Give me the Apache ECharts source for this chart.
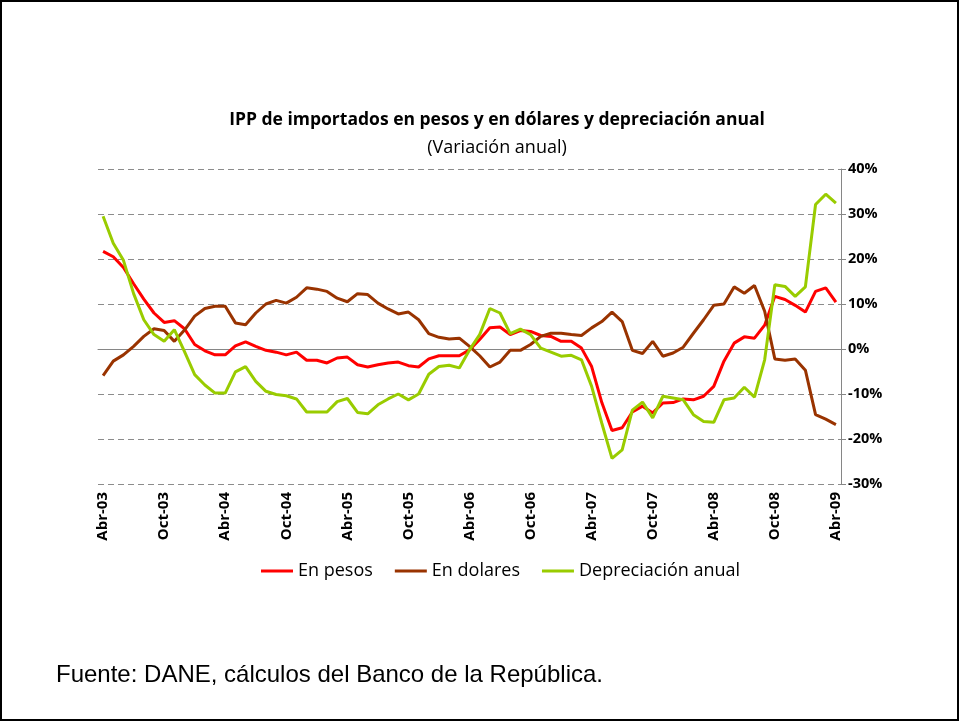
<!DOCTYPE html>
<html>
<head>
<meta charset="utf-8">
<script src="https://cdn.jsdelivr.net/npm/echarts@6/dist/echarts.min.js"></script>
<style>
  html, body { margin: 0; padding: 0; background: #fff; }
  #ipp { width: 960px; height: 722px; }
</style>
</head>
<body>
<div id="ipp"></div>
<script>
// IPP de importados: variación anual, abr-03 a abr-09 (mensual)
var meses = ['Abr','May','Jun','Jul','Ago','Sep','Oct','Nov','Dic','Ene','Feb','Mar'];
var categorias = [];
for (var k = 0; k < 73; k++) {
    var m = k % 12;
    var anio = 3 + Math.floor((k + 3) / 12);
    categorias.push(meses[m] + '-' + (anio < 10 ? '0' + anio : anio));
}

var enPesos = [21.7, 20.5, 18.1, 14.5, 11.1, 8.0, 5.9, 6.3, 4.5, 1.0, -0.4, -1.3,
    -1.3, 0.7, 1.6, 0.6, -0.3, -0.7, -1.3, -0.7, -2.5, -2.5, -3.1, -2.0,
    -1.8, -3.5, -4.0, -3.5, -3.1, -2.9, -3.7, -4.0, -2.2, -1.5, -1.5, -1.5,
    -0.2, 2.1, 4.7, 4.9, 3.2, 4.1, 3.9, 3.0, 2.8, 1.7, 1.7, 0.2,
    -3.9, -11.9, -18.1, -17.5, -14.0, -12.7, -14.2, -12.0, -11.9, -11.1, -11.3, -10.5,
    -8.3, -2.7, 1.3, 2.7, 2.4, 5.3, 11.7, 11.0, 9.7, 8.2, 12.8, 13.6,
    10.4];

var enDolares = [-5.9, -2.7, -1.3, 0.6, 2.8, 4.5, 4.1, 1.7, 4.2, 7.3, 9.0, 9.5,
    9.5, 5.8, 5.4, 8.0, 10.0, 10.8, 10.2, 11.5, 13.6, 13.3, 12.8, 11.3,
    10.5, 12.3, 12.1, 10.2, 8.9, 7.8, 8.2, 6.5, 3.4, 2.6, 2.2, 2.4,
    0.6, -1.5, -4.0, -2.9, -0.3, -0.3, 1.0, 2.8, 3.5, 3.5, 3.2, 3.0,
    4.7, 6.1, 8.2, 6.1, -0.3, -1.0, 1.7, -1.6, -0.9, 0.4, 3.5, 6.5,
    9.7, 10.0, 13.8, 12.4, 14.1, 8.4, -2.2, -2.5, -2.2, -4.7, -14.6, -15.6,
    -16.8];

var depreciacion = [29.5, 23.5, 19.7, 12.3, 6.5, 3.2, 1.7, 4.3, -0.6, -5.7, -8.0, -9.8,
    -9.8, -5.1, -3.9, -7.2, -9.4, -10.1, -10.4, -11.1, -14.0, -14.0, -14.0, -11.7,
    -11.0, -14.1, -14.4, -12.4, -11.1, -10.0, -11.3, -10.0, -5.6, -3.9, -3.6, -4.2,
    -0.2, 3.2, 9.0, 8.0, 3.4, 4.4, 3.2, 0.2, -0.7, -1.6, -1.4, -2.4,
    -8.3, -16.5, -24.3, -22.4, -13.6, -11.8, -15.3, -10.5, -10.9, -11.3, -14.6, -16.1,
    -16.3, -11.3, -10.9, -8.5, -10.7, -2.4, 14.3, 13.9, 11.7, 13.8, 32.1, 34.4,
    32.4];

var fuente = "'Open Sans', 'Noto Sans', sans-serif";

var ipp = echarts.init(document.getElementById('ipp'));

var ipp_option = {
    backgroundColor: '#fff',
    animation: false,
    title: [{
        text: 'IPP de importados en pesos y en dólares y depreciación anual',
        left: 492,
        textAlign: 'center',
        top: 106,
        textStyle: { fontFamily: fuente, fontSize: 17.5, fontWeight: 'bold', color: '#000' }
    }, {
        text: '(Variación anual)',
        left: 492,
        textAlign: 'center',
        top: 134,
        textStyle: { fontFamily: fuente, fontSize: 18, fontWeight: 'normal', color: '#000' }
    }],
    legend: {
        top: 557,
        left: 256,
        icon: 'rect',
        itemWidth: 32,
        itemHeight: 3,
        itemGap: 22,
        textStyle: { fontFamily: fuente, fontSize: 18, color: '#000' },
        data: ['En pesos', 'En dolares', 'Depreciación anual']
    },
    grid: {
        left: 98,
        top: 169,
        width: 743,
        height: 315
    },
    xAxis: [{
        type: 'category',
        data: categorias,
        boundaryGap: true,
        axisLine: { onZero: true, lineStyle: { color: '#868686', width: 1 } },
        axisTick: { interval: 5, length: 5, lineStyle: { color: '#868686' } },
        axisLabel: { show: false },
        splitLine: { show: false }
    }, {
        type: 'category',
        data: categorias,
        position: 'bottom',
        boundaryGap: true,
        axisLine: { show: false, onZero: false },
        axisTick: { show: false },
        axisLabel: {
            interval: 5,
            rotate: 90,
            margin: 8,
            fontFamily: fuente,
            fontSize: 15,
            fontWeight: 'bold',
            color: '#000'
        },
        splitLine: { show: false }
    }],
    yAxis: {
        type: 'value',
        position: 'right',
        min: -30,
        max: 40,
        interval: 10,
        axisLine: { show: true, lineStyle: { color: '#868686' } },
        axisTick: { show: true, length: 5, lineStyle: { color: '#868686' } },
        axisLabel: {
            formatter: '{value}%',
            margin: 7,
            fontFamily: fuente,
            fontSize: 14.5,
            fontWeight: 'bold',
            color: '#000'
        },
        splitLine: { lineStyle: { type: [6, 4], color: '#8c8c8c', width: 1 } }
    },
    series: [{
        name: 'En pesos',
        type: 'line',
        data: enPesos,
        symbol: 'none',
        color: '#ff0000',
        lineStyle: { width: 3, color: '#ff0000' }
    }, {
        name: 'En dolares',
        type: 'line',
        data: enDolares,
        symbol: 'none',
        color: '#993300',
        lineStyle: { width: 3, color: '#993300' }
    }, {
        name: 'Depreciación anual',
        type: 'line',
        data: depreciacion,
        symbol: 'none',
        color: '#99cc00',
        lineStyle: { width: 3, color: '#99cc00' }
    }],
    graphic: [{
        type: 'rect',
        shape: { x: 1, y: 1, width: 957, height: 719 },
        style: { fill: 'none', stroke: '#000', lineWidth: 2 },
        silent: true
    }, {
        type: 'text',
        left: 56,
        top: 663,
        style: {
            text: 'Fuente: DANE, cálculos del Banco de la República.',
            font: "24px 'Liberation Sans', Arial, sans-serif",
            fill: '#000'
        }
    }]
};
ipp.setOption(ipp_option);
</script>
</body>
</html>
